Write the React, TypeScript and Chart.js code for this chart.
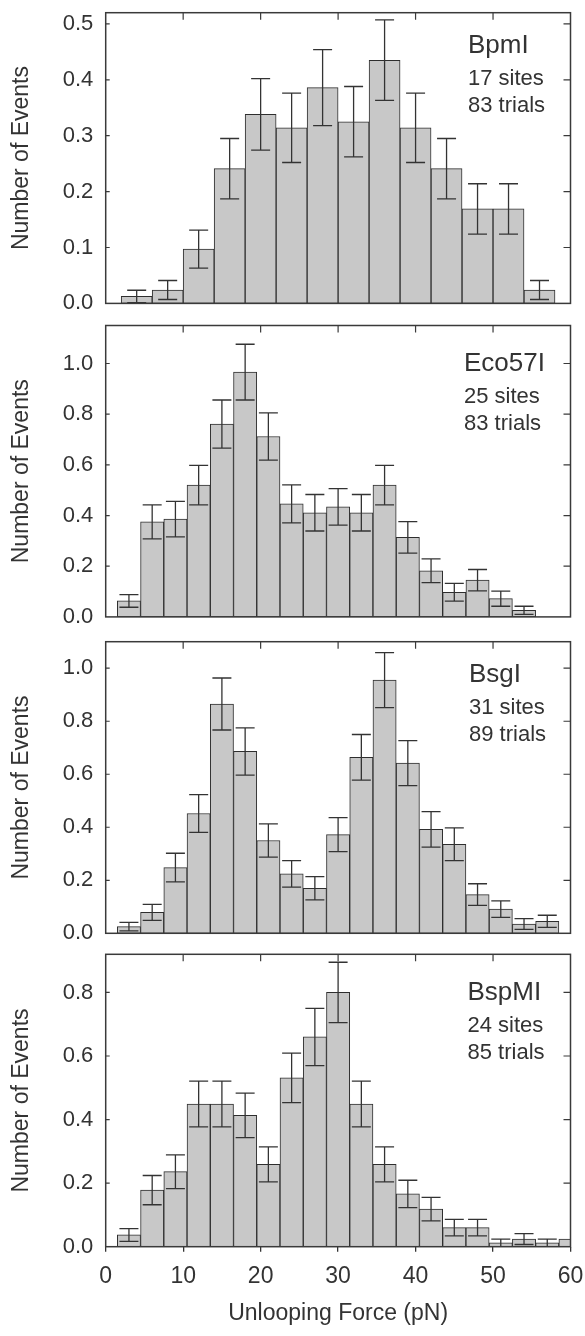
import React, { useEffect, useRef } from 'react';
import { Chart, registerables } from 'chart.js';

Chart.register(...registerables);

const FONT = '"Liberation Sans", Arial, Helvetica, sans-serif';
const INK = '#333333';
const BAR_FILL = '#c8c8c8';
const BAR_EDGE = '#2e2e2e';

// ---- shared axis data ----
const forceTicks = [0, 10, 20, 30, 40, 50, 60];
const forceAxisTitle = 'Unlooping Force (pN)';
const countAxisTitle = 'Number of Events';

// ---- Panel 1: BpmI ----
const bpmIForce = [4, 8, 12, 16, 20, 24, 28, 32, 36, 40, 44, 48, 52, 56];
const bpmIEvents = [0.0125, 0.024, 0.097, 0.241, 0.338, 0.314, 0.386, 0.325, 0.435, 0.314, 0.241, 0.169, 0.169, 0.024];
const bpmIErrors = [0.011, 0.017, 0.034, 0.054, 0.064, 0.062, 0.068, 0.063, 0.072, 0.062, 0.054, 0.045, 0.045, 0.017];
const bpmITicks = [0, 0.1, 0.2, 0.3, 0.4, 0.5];

// ---- Panel 2: Eco57I ----
const eco57IForce = [3, 6, 9, 12, 15, 18, 21, 24, 27, 30, 33, 36, 39, 42, 45, 48, 51, 54];
const eco57IEvents = [0.063, 0.375, 0.386, 0.52, 0.761, 0.966, 0.712, 0.446, 0.411, 0.434, 0.411, 0.52, 0.314, 0.182, 0.097, 0.145, 0.072, 0.026];
const eco57IErrors = [0.025, 0.067, 0.07, 0.078, 0.095, 0.11, 0.093, 0.075, 0.072, 0.072, 0.072, 0.078, 0.062, 0.047, 0.035, 0.042, 0.03, 0.016];
const eco57ITicks = [0, 0.2, 0.4, 0.6, 0.8, 1.0];

// ---- Panel 3: BsgI ----
const bsgIForce = [3, 6, 9, 12, 15, 18, 21, 24, 27, 30, 33, 36, 39, 42, 45, 48, 51, 54, 57];
const bsgIEvents = [0.025, 0.079, 0.248, 0.452, 0.865, 0.686, 0.35, 0.224, 0.17, 0.372, 0.664, 0.955, 0.642, 0.392, 0.336, 0.146, 0.091, 0.035, 0.045];
const bsgIErrors = [0.016, 0.03, 0.054, 0.071, 0.098, 0.089, 0.063, 0.05, 0.044, 0.064, 0.086, 0.104, 0.085, 0.067, 0.062, 0.041, 0.031, 0.02, 0.023];
const bsgITicks = [0, 0.2, 0.4, 0.6, 0.8, 1.0];

// ---- Panel 4: BspMI ----
const bspMIForce = [3, 6, 9, 12, 15, 18, 21, 24, 27, 30, 33, 36, 39, 42, 45, 48, 51, 54, 57, 60];
const bspMIEvents = [0.037, 0.178, 0.236, 0.449, 0.449, 0.413, 0.259, 0.531, 0.66, 0.8, 0.449, 0.259, 0.166, 0.118, 0.06, 0.06, 0.012, 0.024, 0.012, 0.024];
const bspMIErrors = [0.02, 0.046, 0.053, 0.072, 0.072, 0.07, 0.055, 0.078, 0.09, 0.095, 0.072, 0.055, 0.043, 0.037, 0.026, 0.026, 0.012, 0.017, 0.012, 0];
const bspMITicks = [0, 0.2, 0.4, 0.6, 0.8];

type PanelData = {
  name: string;
  sites: string;
  trials: string;
  force: number[];
  events: number[];
  errors: number[];
  yTicks: number[];
  yMax: number;
};

const panels: PanelData[] = [
  { name: 'BpmI', sites: '17 sites', trials: '83 trials', force: bpmIForce, events: bpmIEvents, errors: bpmIErrors, yTicks: bpmITicks, yMax: 0.52 },
  { name: 'Eco57I', sites: '25 sites', trials: '83 trials', force: eco57IForce, events: eco57IEvents, errors: eco57IErrors, yTicks: eco57ITicks, yMax: 1.15 },
  { name: 'BsgI', sites: '31 sites', trials: '89 trials', force: bsgIForce, events: bsgIEvents, errors: bsgIErrors, yTicks: bsgITicks, yMax: 1.1 },
  { name: 'BspMI', sites: '24 sites', trials: '85 trials', force: bspMIForce, events: bspMIEvents, errors: bspMIErrors, yTicks: bspMITicks, yMax: 0.92 },
];

// ---- layout (canvas boxes, paddings, label placement) ----
type Box = { top: number; height: number; padTop: number; padBottom: number; labelInset: number; labelDrop: number; axisHeight?: number };
const boxes: Box[] = [
  { top: 0, height: 312, padTop: 12.7, padBottom: 8.6, labelInset: 102.5, labelDrop: 0 },
  { top: 312, height: 318, padTop: 13.5, padBottom: 13.1, labelInset: 106.5, labelDrop: 5 },
  { top: 630, height: 312, padTop: 11.7, padBottom: 8.7, labelInset: 101.5, labelDrop: 0 },
  { top: 942, height: 394, padTop: 12.3, padBottom: 0, labelInset: 103, labelDrop: 5.5, axisHeight: 89.3 },
];
const Y_AXIS_WIDTH = 105.7;
const RIGHT_PAD = 14.5;
const CAP_HALF = 9.5;

const decorPlugin = {
  id: 'decor',
  afterDatasetsDraw(chart: any, _args: any, opts: any) {
    const { ctx, chartArea: a } = chart;
    const x = chart.scales.x;
    const y = chart.scales.y;
    const ds = chart.data.datasets[0];
    const errs: number[] = ds.errorBars || [];

    // error bars
    ctx.save();
    ctx.beginPath();
    ctx.rect(a.left, a.top, a.right - a.left, a.bottom - a.top);
    ctx.clip();
    ctx.strokeStyle = INK;
    ctx.lineWidth = 1.3;
    ds.data.forEach((pt: any, i: number) => {
      const e = errs[i];
      if (!e) return;
      const px = x.getPixelForValue(pt.x);
      const pTop = y.getPixelForValue(pt.y + e);
      const pBot = y.getPixelForValue(Math.max(0, pt.y - e));
      ctx.beginPath();
      ctx.moveTo(px, pTop);
      ctx.lineTo(px, pBot);
      ctx.moveTo(px - CAP_HALF, pTop);
      ctx.lineTo(px + CAP_HALF, pTop);
      ctx.moveTo(px - CAP_HALF, pBot);
      ctx.lineTo(px + CAP_HALF, pBot);
      ctx.stroke();
    });
    ctx.restore();

    // frame and inner ticks
    ctx.save();
    ctx.strokeStyle = '#3a3a3a';
    ctx.lineWidth = 1.5;
    ctx.strokeRect(a.left, a.top, a.right - a.left, a.bottom - a.top);
    ctx.lineWidth = 1.2;
    ctx.beginPath();
    (opts.yTicks as number[]).forEach((v) => {
      if (v <= y.min) return;
      const py = y.getPixelForValue(v);
      ctx.moveTo(a.left, py);
      ctx.lineTo(a.left + 4, py);
      ctx.moveTo(a.right, py);
      ctx.lineTo(a.right - 7, py);
    });
    (opts.xTicks as number[]).forEach((v) => {
      if (v <= x.min || v >= x.max) return;
      const px = x.getPixelForValue(v);
      ctx.moveTo(px, a.top);
      ctx.lineTo(px, a.top + 7);
    });
    ctx.stroke();

    // annotation text
    ctx.fillStyle = INK;
    ctx.textAlign = 'left';
    ctx.textBaseline = 'alphabetic';
    const lx = a.right - opts.inset;
    const t0 = a.top + opts.drop;
    ctx.font = `26px ${FONT}`;
    ctx.fillText(opts.name, lx, t0 + 40.6);
    ctx.font = `22px ${FONT}`;
    ctx.fillText(opts.sites, lx, t0 + 72.2);
    ctx.fillText(opts.trials, lx, t0 + 99.2);
    ctx.restore();
  },
};

function PanelChart({ panel, box, isBottom }: { panel: PanelData; box: Box; isBottom: boolean }) {
  const ref = useRef<HTMLCanvasElement>(null);
  useEffect(() => {
    const canvas = ref.current;
    if (!canvas) return;
    const chart = new Chart(canvas, {
      type: 'bar',
      data: {
        datasets: [
          {
            data: panel.force.map((f, i) => ({ x: f, y: panel.events[i] })),
            backgroundColor: BAR_FILL,
            borderColor: BAR_EDGE,
            borderWidth: 1,
            borderSkipped: false,
            barPercentage: 1,
            categoryPercentage: 1,
            clip: 0,
            errorBars: panel.errors,
          } as any,
        ],
      },
      options: {
        responsive: false,
        animation: false,
        devicePixelRatio: 1,
        layout: { padding: { top: box.padTop, bottom: box.padBottom, left: 0, right: RIGHT_PAD } },
        plugins: {
          legend: { display: false },
          tooltip: { enabled: false },
          decor: {
            name: panel.name,
            sites: panel.sites,
            trials: panel.trials,
            inset: box.labelInset,
            drop: box.labelDrop,
            yTicks: panel.yTicks,
            xTicks: forceTicks,
          },
        } as any,
        scales: {
          x: {
            type: 'linear',
            min: forceTicks[0],
            max: forceTicks[forceTicks.length - 1],
            offset: false,
            display: isBottom,
            afterBuildTicks: (s: any) => {
              s.ticks = forceTicks.map((v) => ({ value: v }));
            },
            afterFit: (s: any) => {
              if (isBottom && box.axisHeight) s.height = box.axisHeight;
              s.paddingLeft = 0;
              s.paddingRight = 0;
            },
            grid: {
              display: true,
              drawOnChartArea: false,
              drawTicks: true,
              tickLength: 5,
              color: INK,
              lineWidth: 1.3,
              offset: false,
            },
            border: { display: false },
            ticks: {
              font: { size: 23, family: FONT },
              color: INK,
              padding: 11.2,
              maxRotation: 0,
              autoSkip: false,
              callback: (v: any) => String(v),
            },
            title: {
              display: true,
              text: forceAxisTitle,
              font: { size: 23, family: FONT },
              color: INK,
              padding: { top: 0, bottom: 8.5 },
            },
          } as any,
          y: {
            type: 'linear',
            min: 0,
            max: panel.yMax,
            afterBuildTicks: (s: any) => {
              s.ticks = panel.yTicks.map((v) => ({ value: v }));
            },
            afterFit: (s: any) => {
              s.width = Y_AXIS_WIDTH;
              s.paddingTop = 0;
              s.paddingBottom = 0;
            },
            grid: { display: false, drawTicks: false },
            border: { display: false },
            ticks: {
              font: { size: 22, family: FONT },
              color: INK,
              padding: 12.4,
              callback: (v: any) => Number(v).toFixed(1),
            },
            title: {
              display: true,
              text: countAxisTitle,
              font: { size: 23, family: FONT },
              color: INK,
              padding: { top: 8, bottom: 0 },
            },
          } as any,
        },
      },
      plugins: [decorPlugin],
    });
    return () => chart.destroy();
  }, [panel, box, isBottom]);
  return (
    <canvas
      ref={ref}
      width={585}
      height={box.height}
      style={{ position: 'absolute', left: 0, top: box.top, width: 585, height: box.height, display: 'block' }}
    />
  );
}

export default function App() {
  return (
    <div style={{ position: 'absolute', left: 0, top: 0, width: 585, height: 1336, background: '#ffffff', overflow: 'hidden' }}>
      {panels.map((p, i) => (
        <PanelChart key={p.name} panel={p} box={boxes[i]} isBottom={i === panels.length - 1} />
      ))}
    </div>
  );
}
